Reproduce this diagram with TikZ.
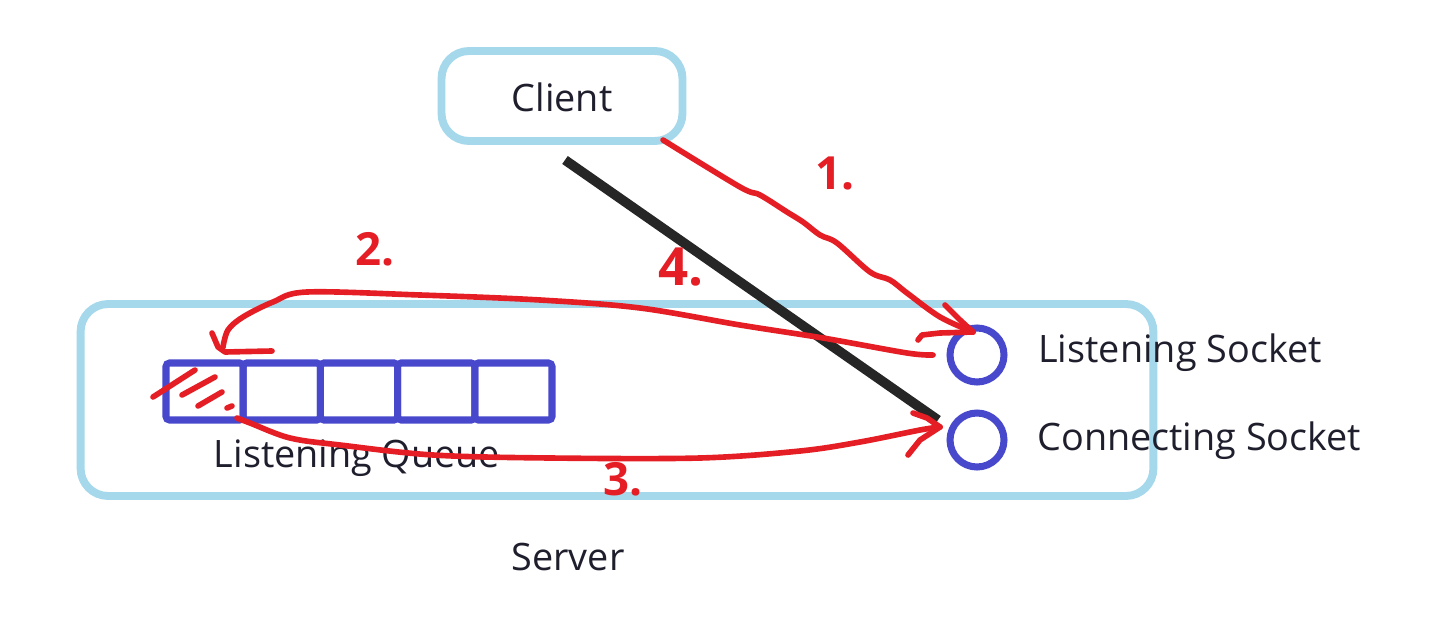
\documentclass[tikz,border=0pt]{standalone}
\usepackage{fontspec}
\setmainfont{Open Sans}
\usetikzlibrary{positioning}

\definecolor{boxblue}{RGB}{165,216,234}
\definecolor{cellblue}{RGB}{72,72,205}
\definecolor{penred}{RGB}{228,30,36}
\definecolor{inkdark}{RGB}{30,30,45}

\begin{document}
\begin{tikzpicture}[
x=0.02cm, y=-0.02cm,
font=\fontsize{21.5}{26}\selectfont\color{inkdark},
panel/.style={rectangle, draw=boxblue, line width=4.5pt, rounded corners=0.55cm},
cell/.style={rectangle, draw=cellblue, line width=4pt, rounded corners=2pt, minimum width=1.544cm, minimum height=1.14cm},
sock/.style={circle, draw=cellblue, line width=4pt, minimum size=1.08cm, inner sep=0pt},
lbl/.style={anchor=base west, inner sep=0pt},
pen/.style={draw=penred, line width=3.2pt, line cap=round, line join=round},
num/.style={anchor=base west, inner sep=0pt, text=penred, font=\fontsize{26}{30}\selectfont\bfseries},
cut/.style={draw=black!85, line width=5.5pt}
]
\useasboundingbox (0,0) rectangle (1435,628);

% --- Boites ---
\node[panel, minimum width=4.82cm, minimum height=1.8cm] (client) at (562,96) {};
\node[anchor=base, inner sep=0pt] (clienttxt) at (562,112) {Client};
\node[panel, minimum width=21.46cm, minimum height=3.84cm] (server) at (617,400) {};
\node[anchor=base, inner sep=0pt] (servertxt) at (568,570) {Server};

% --- File d'attente ---
\foreach \i in {1,...,5}
  \node[cell] (q\i) at ({204.6+(\i-1)*77.2},391.5) {};
\node[anchor=base, inner sep=0pt] (queuetxt) at (357,467) {Listening Queue};

% --- Sockets ---
\node[sock] (ls) at (977,355) {};
\node[sock] (cs) at (977,440) {};
\node[lbl] (lstxt) at (1038,362) {Listening Socket};
\node[lbl] (cstxt) at (1037,450) {Connecting Socket};

% --- Trait noir ---
\coordinate (cutA) at (565,160);
\coordinate (cutB) at (938,420);
\draw[cut] (cutA) -- (cutB);

% --- 1. ---
\coordinate (a1s) at (663,140);
\coordinate (a1t) at (973,332);
\draw[pen] plot[smooth, tension=0.55] coordinates {(a1s) (740,187) (760,195) (787,212) (803,222) (820,235) (837,243) (870,272) (890,280) (907,293) (940,317) (a1t)};
\draw[pen] (945,305) -- (960,320) -- (a1t);
\draw[pen] (918,340) -- (922,335) -- (940,333) -- (a1t);
\node[num] (n1) at (815,190) {1.};

% --- 2. ---
\coordinate (a2s) at (933,355);
\coordinate (a2t) at (225,352);
\draw[pen] plot[smooth, tension=0.55] coordinates {(a2s) (907,353) (823,338) (740,325) (640,308) (540,300) (420,295) (307,292) (273,302) (243,317) (228,330) (223,347)};
\draw[pen] (212,333) -- (218,347) -- (a2t) -- (272,351);
\node[num] (n2) at (355,265) {2.};

% --- 3. ---
\coordinate (a3s) at (237,418);
\coordinate (a3t) at (940,427);
\draw[pen] plot[smooth, tension=0.55] coordinates {(a3s) (250,423) (290,438) (340,445) (433,455) (550,458) (700,458) (800,451) (860,442) (920,430) (a3t)};
\draw[pen] (913,413) -- (927,418) -- (a3t);
\draw[pen] (908,455) -- (920,440) -- (a3t);
\node[num] (n3) at (603,495) {3.};

% --- 4. ---
\node[num, font=\fontsize{30}{34}\selectfont\bfseries] (n4) at (658,285) {4.};

% --- Marques dans la file ---
\draw[pen] (153,397) -- (195,370);
\draw[pen] (182,395) -- (215,377);
\draw[pen] (198,406) -- (222,392);
\draw[pen] (227,408) -- (232,406);

\end{tikzpicture}
\end{document}
